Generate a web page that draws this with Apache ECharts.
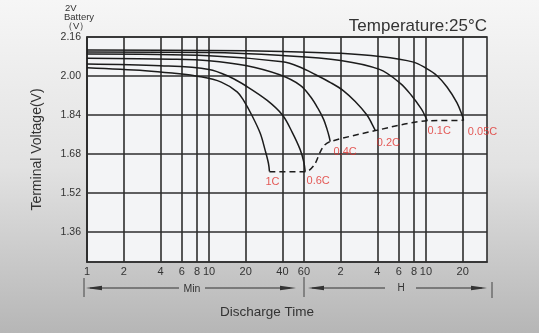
<!DOCTYPE html>
<html><head><meta charset="utf-8">
<script src="https://cdn.jsdelivr.net/npm/echarts@6/dist/echarts.min.js"></script>
<style>html,body{margin:0;padding:0;background:#ddd}#c{width:539px;height:333px;}</style>
</head><body><div id="c"></div>
<script>
// ---- data (time in minutes, voltage in V) ----
const xTicks = [1, 2, 4, 6, 8, 10, 20, 40, 60, 120, 240, 360, 480, 600, 1200];
const yTicks = [1.36, 1.52, 1.68, 1.84, 2.00, 2.16];
const rateNames = ['1C', '0.6C', '0.4C', '0.2C', '0.1C', '0.05C'];
const curve1C = [[1,2.034],[3,2.022],[5,2.012],[8.5,1.997],[12.6,1.975],[17,1.935],[19.2,1.90],[22.4,1.84],[26.3,1.765],[28.8,1.697],[30.7,1.642],[31.3,1.608]];
const curve06C = [[1,2.049],[4,2.042],[10,2.027],[15,1.995],[20,1.96],[30,1.90],[40,1.84],[48,1.77],[56,1.697],[60,1.645],[61.4,1.608]];
const curve04C = [[1,2.073],[5,2.069],[10,2.063],[20,2.043],[38,2.005],[56,1.962],[68,1.915],[78,1.868],[87,1.822],[93,1.78],[96.5,1.752],[98.5,1.731]];
const curve02C = [[1,2.090],[10,2.083],[40,2.058],[56,2.036],[75,2.005],[100,1.972],[126,1.94],[158,1.895],[197,1.84],[216,1.805],[231,1.776]];
const curve01C = [[1,2.098],[10,2.096],[40,2.084],[120,2.064],[250,2.027],[370,1.97],[457,1.92],[550,1.865],[592,1.835],[615,1.816]];
const curve005C = [[1,2.107],[10,2.105],[40,2.101],[120,2.093],[250,2.08],[475,2.057],[600,2.032],[743,2.00],[893,1.955],[1079,1.89],[1186,1.84],[1220,1.818]];
const cutoffLine = [[31.3,1.607],[61.4,1.607],[66,1.612],[74,1.64],[81,1.685],[88,1.715],[98.5,1.731],[231,1.776],[615,1.816],[1220,1.818]];

const curves = [curve1C, curve06C, curve04C, curve02C, curve01C, curve005C];
const labelOffsets = [[3,0],[13,-1],[15,0],[13,2],[12,0],[19,1]];

const FONT = '"Liberation Sans", Arial, sans-serif';
const INK = '#333';
const GRIDC = '#2e2e2e';

const chart = echarts.init(document.getElementById('c'), null, {renderer: 'canvas'});

const series = curves.map((c, i) => ({
  type: 'line', name: rateNames[i], data: c, showSymbol: false, symbol: 'none',
  smooth: 0.35,
  lineStyle: {color: '#1c1c1c', width: 1.5}, z: 5, silent: true
}));
series.push({
  type: 'line', name: 'cutoff', data: cutoffLine, showSymbol: false, symbol: 'none',
  smooth: 0.3,
  lineStyle: {color: '#1c1c1c', width: 1.5, type: [6, 4]}, z: 5, silent: true
});
series.push({
  type: 'scatter', name: 'labels', symbolSize: 0, silent: true, z: 6,
  data: curves.map((c, i) => ({
    value: c[c.length - 1],
    label: {show: true, formatter: rateNames[i], position: 'bottom', distance: 5,
            offset: labelOffsets[i], color: '#e0312d', fontSize: 11, fontFamily: FONT}
  }))
});

function arrowHead(xTip, y, dir) {
  const L = 16, H = 2.2;
  return {type: 'polygon', silent: true,
    shape: {points: [[xTip, y], [xTip - dir * L, y - H], [xTip - dir * L, y + H]]},
    style: {fill: '#333'}};
}
function hline(x1, x2, y) {
  return {type: 'line', silent: true, shape: {x1, y1: y, x2, y2: y}, style: {stroke: '#333', lineWidth: 1}};
}
function vline(x, y1, y2) {
  return {type: 'line', silent: true, shape: {x1: x, y1, x2: x, y2}, style: {stroke: '#444', lineWidth: 1}};
}
function txt(text, x, y, size, align) {
  return {type: 'text', silent: true, x, y,
    style: {text, fill: INK, font: size + 'px ' + FONT, align: align || 'left', verticalAlign: 'middle'}};
}

const option = {
  animation: false,
  backgroundColor: {type: 'linear', x: 0, y: 0, x2: 0, y2: 1,
    colorStops: [{offset: 0, color: '#f6f6f6'}, {offset: 0.5, color: '#e2e2e2'}, {offset: 1, color: '#b6b6b6'}]},
  grid: {left: 87, right: 52, top: 37, bottom: 71, show: true,
         backgroundColor: '#f3f4f6', borderColor: GRIDC, borderWidth: 1.6},
  xAxis: {
    type: 'log', logBase: 10, min: 1, max: 1900,
    axisLine: {show: true, lineStyle: {color: GRIDC, width: 1.6}},
    axisTick: {show: false, customValues: xTicks},
    axisLabel: {customValues: xTicks, color: INK, fontSize: 11, fontFamily: FONT, margin: 4,
      formatter: v => String(v > 60 ? Math.round(v / 60) : Math.round(v))},
    splitLine: {show: true, lineStyle: {color: GRIDC, width: 1.6}},
    minorTick: {show: false}, minorSplitLine: {show: false}
  },
  yAxis: {
    type: 'value', min: 1.237, max: 2.16,
    name: 'Terminal Voltage(V)', nameLocation: 'middle', nameGap: 43, nameRotate: 90,
    nameTextStyle: {color: INK, fontSize: 14, fontFamily: FONT},
    axisLine: {show: true, lineStyle: {color: GRIDC, width: 1.6}},
    axisTick: {show: false, customValues: yTicks},
    axisLabel: {customValues: yTicks, color: INK, fontSize: 10.5, fontFamily: FONT, margin: 6,
      formatter: v => v.toFixed(2)},
    splitLine: {show: true, lineStyle: {color: GRIDC, width: 1.6}}
  },
  graphic: [
    txt('2V', 65, 8, 9.5),
    txt('Battery', 64, 17, 9.5),
    txt('（V）', 63, 26, 9.5),
    txt('Temperature:25°C', 487, 26, 17, 'right'),
    txt('Discharge Time', 267, 312, 13.5, 'center'),
    vline(84, 278, 297), vline(304, 277, 297), vline(492, 282, 298),
    hline(90, 179, 288), hline(205, 290, 288),
    arrowHead(86, 288, -1), arrowHead(296, 288, 1),
    txt('Min', 192, 289, 10.5, 'center'),
    hline(312, 385, 288), hline(416, 482, 288),
    arrowHead(308, 288, -1), arrowHead(487, 288, 1),
    txt('H', 401, 288, 10, 'center')
  ],
  series
};
chart.setOption(option);
</script>
</body></html>
